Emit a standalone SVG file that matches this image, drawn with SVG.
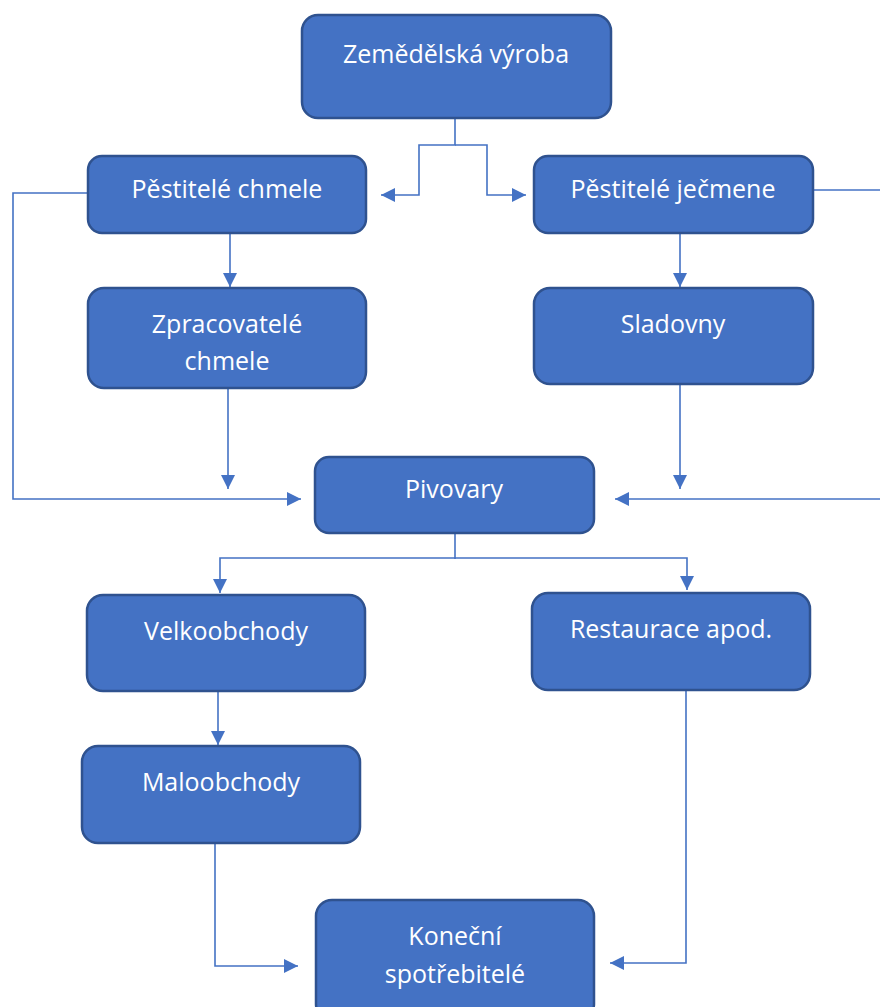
<svg xmlns="http://www.w3.org/2000/svg" width="880" height="1007" viewBox="0 0 880 1007">
<defs>
<style>
.n rect{fill:#4472C4;stroke:#2F528F;stroke-width:2.5}
.n text{fill:#fff;font-family:"Open Sans","Liberation Sans",sans-serif;font-size:25px;text-anchor:middle}
.c path{fill:none;stroke:#4472C4;stroke-width:1.6}
</style>
<marker id="a" viewBox="0 0 10 10" refX="10" refY="5" markerWidth="14" markerHeight="14" markerUnits="userSpaceOnUse" orient="auto">
<path d="M0,0 L10,5 L0,10 Z" fill="#4472C4"/>
</marker>
</defs>
<rect width="880" height="1007" fill="#fff"/>
<g class="c">
<path d="M455,118 V145 H419 V195 H381" marker-end="url(#a)"/>
<path d="M455,145 H487 V195 H526" marker-end="url(#a)"/>
<path d="M230,233 V287" marker-end="url(#a)"/>
<path d="M680,233 V287" marker-end="url(#a)"/>
<path d="M228,388 V489" marker-end="url(#a)"/>
<path d="M680,384 V489" marker-end="url(#a)"/>
<path d="M88,193 H13 V499 H301" marker-end="url(#a)"/>
<path d="M813,190 H880"/>
<path d="M880,499 H615" marker-end="url(#a)"/>
<path d="M455,533 V559"/>
<path d="M455,558 H220 V593" marker-end="url(#a)"/>
<path d="M455,558 H687 V590" marker-end="url(#a)"/>
<path d="M218,691 V745" marker-end="url(#a)"/>
<path d="M215,843 V966 H298" marker-end="url(#a)"/>
<path d="M686,690 V963 H610" marker-end="url(#a)"/>
</g>
<g id="zemedelska" class="n"><rect x="302" y="15" width="309" height="103" rx="16"/><text x="456" y="63">Zemědělská výroba</text></g>
<g id="pestitele-chmele" class="n"><rect x="88" y="156" width="278" height="77" rx="14"/><text x="227" y="198">Pěstitelé chmele</text></g>
<g id="pestitele-jecmene" class="n"><rect x="534" y="156" width="279" height="77" rx="14"/><text x="673" y="198">Pěstitelé ječmene</text></g>
<g id="zpracovatele" class="n"><rect x="88" y="288" width="278" height="100" rx="16"/><text x="227" y="333">Zpracovatelé</text><text x="227" y="370">chmele</text></g>
<g id="sladovny" class="n"><rect x="534" y="288" width="279" height="96" rx="16"/><text x="673" y="333">Sladovny</text></g>
<g id="pivovary" class="n"><rect x="315" y="457" width="279" height="76" rx="14"/><text x="454" y="498">Pivovary</text></g>
<g id="velkoobchody" class="n"><rect x="87" y="595" width="278" height="96" rx="16"/><text x="226" y="640">Velkoobchody</text></g>
<g id="restaurace" class="n"><rect x="532" y="593" width="278" height="97" rx="16"/><text x="671" y="638">Restaurace apod.</text></g>
<g id="maloobchody" class="n"><rect x="82" y="746" width="278" height="97" rx="16"/><text x="221" y="791">Maloobchody</text></g>
<g id="konecni" class="n"><rect x="316" y="900" width="278" height="120" rx="16"/><text x="455" y="945">Koneční</text><text x="455" y="983">spotřebitelé</text></g>
</svg>
